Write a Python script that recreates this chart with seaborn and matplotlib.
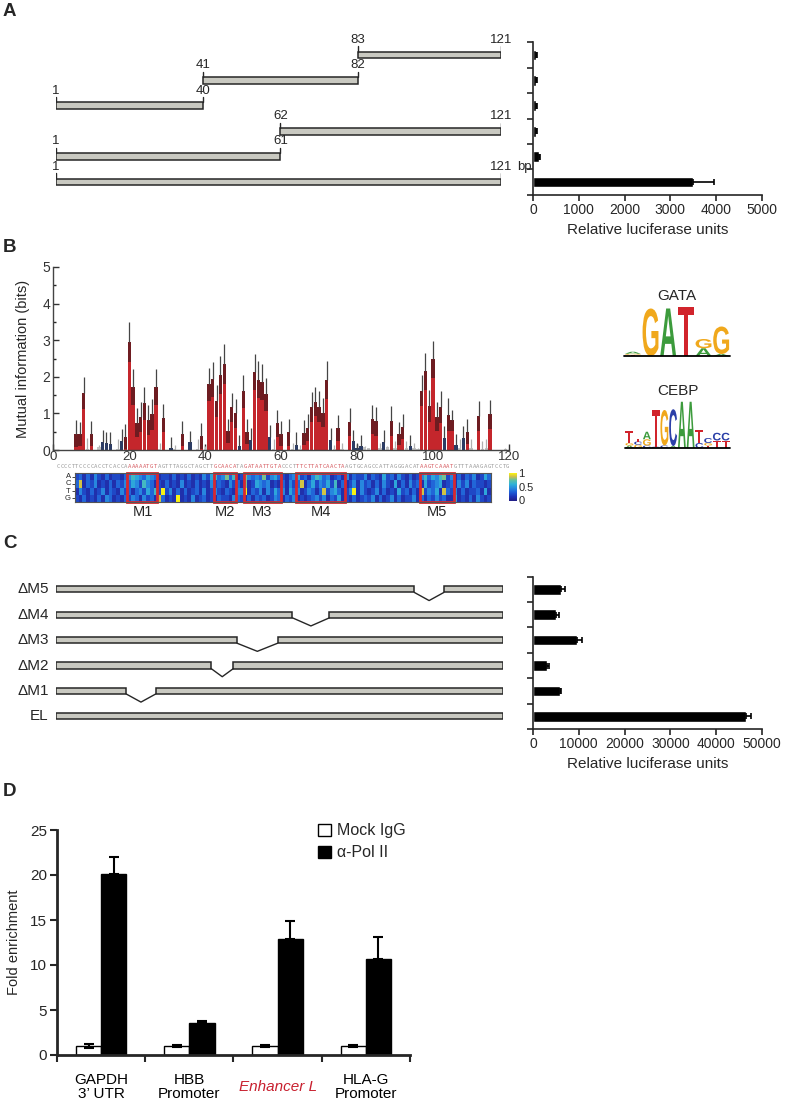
import numpy as np
import pandas as pd
import seaborn as sns
import matplotlib.pyplot as plt
from matplotlib.colors import LinearSegmentedColormap
from matplotlib.patches import Rectangle, PathPatch, Patch
from matplotlib.textpath import TextPath
from matplotlib.font_manager import FontProperties
from matplotlib.transforms import Affine2D

# ---------------- data ----------------
# A: enhancer fragments (bp) and luciferase activity
a_labels = ['83-121', '41-82', '1-40', '62-121', '1-61', '1-121']
a_start = [83, 41, 1, 62, 1, 1]
a_end = [121, 82, 40, 121, 61, 121]
a_luc = [55, 65, 60, 55, 130, 3500]
a_err = [25, 25, 25, 25, 30, 460]
a_ticks = [0, 1000, 2000, 3000, 4000, 5000]

# B: mutual information per position 1..120 (r = red, b = blue, g = grey, n = none)
mi_bits = [0, 0, 0, 0, 0, 0.45, 0.44, 1.56, 0.02, 0.45,
           0, 0.08, 0.21, 0.19, 0.17, 0, 0.02, 0.24, 0.36, 2.95,
           1.72, 0.75, 0.90, 1.28, 0.82, 0.97, 1.73, 0.02, 0.87, 0,
           0.05, 0.02, 0, 0.44, 0, 0.22, 0, 0.02, 0.38, 0.02,
           1.80, 1.93, 1.34, 2.06, 2.35, 0.52, 1.17, 1.00, 0.11, 1.60,
           0.50, 0.26, 2.12, 1.92, 1.85, 1.52, 0.35, 0.02, 0.73, 0.45,
           0, 0.48, 0.02, 0.15, 0.02, 0.47, 0.61, 1.17, 1.32, 1.18,
           1.02, 1.91, 0.27, 0.02, 0.60, 0.02, 0, 0.76, 0.25, 0.05,
           0.10, 0.08, 0.05, 0.84, 0.78, 0.05, 0.22, 0.08, 0.79, 0.05,
           0.45, 0.63, 0.05, 0.11, 0.05, 0.02, 1.62, 2.15, 1.20, 2.48,
           0.91, 1.18, 0.34, 0.96, 0.81, 0.14, 0.05, 0.32, 0.50, 0.05,
           0, 0.93, 0.02, 0.05, 0.97, 0, 0, 0, 0.02, 0]
mi_err = [0, 0, 0, 0, 0, 0.37, 0.33, 0.44, 0.30, 0.35,
          0, 0.07, 0.34, 0.31, 0.33, 0, 0.28, 0.33, 0.34, 0.55,
          0.48, 0.40, 0.40, 0.45, 0.40, 0.43, 0.49, 0.16, 0.39, 0,
          0.30, 0.13, 0, 0.34, 0, 0.31, 0, 0.28, 0.35, 0.08,
          0.45, 0.47, 0.43, 0.52, 0.55, 0.34, 0.40, 0.39, 0.29, 0.44,
          0.34, 0.34, 0.49, 0.50, 0.49, 0.46, 0.33, 0.28, 0.37, 0.35,
          0, 0.37, 0.18, 0.33, 0.13, 0.34, 0.36, 0.41, 0.39, 0.42,
          0.40, 0.51, 0.32, 0.13, 0.35, 0.18, 0, 0.39, 0.31, 0.15,
          0.30, 0.02, 0, 0.39, 0.40, 0.15, 0.33, 0.02, 0.41, 0.20,
          0.32, 0.34, 0.20, 0.30, 0.15, 0.03, 0.43, 0.50, 0.43, 0.50,
          0.39, 0.44, 0.32, 0.45, 0.29, 0.31, 0.25, 0.34, 0.34, 0.25,
          0, 0.40, 0.23, 0.25, 0.39, 0, 0, 0, 0.03, 0]
mi_kind = ('nnnnnrrrgr' 'ngbbbngbrr' 'rrrrrrrgrn' 'bgnrnbngrg' 'rrrrrrrrbr'
           'rbrrrrbgrr' 'nrgbgrrrrr' 'rrbgrgnrbb' 'bggrrgbgrg' 'rrgbggrrrr'
           'rrbrrbgbrg' 'nrggrnnngn')

enh_seq = ('CCCCTTCCCCACCTCACCAAAAAATGTAGTTTAGGCTAGCTTGCAACATAGATAATTGTACCCT'
           'TTCTTATCAACTAAGTGCAGCCATTAGGGACATAAGTCAAATGTTTAAAGAGTCCTG')
motif_names = ['M1', 'M2', 'M3', 'M4', 'M5']
motif_nt = [(19, 27), (42, 48), (50, 60), (64, 77), (97, 106)]   # 0-based, end exclusive

# heatmap (rows A, C, T, G), first column = nucleotide index 5, value = digit / 9
hm_bases = ['A', 'C', 'T', 'G']
hm_first = 5
hm_rows = [
    '2313142131' '2213465435' '4312213121' '3121425634' '7361274343' '7245321345'
    '2314653412' '3141322413' '2152314213' '1246354672' '4131324125' '3',
    '3813241213' '1324354264' '3121312141' '2131214232' '1423171254' '3412131423'
    '8135243526' '1312414231' '3142151314' '2315234512' '3142413221' '2',
    '1421312413' '2142313425' '3629241313' '1231412421' '3214491324' '1425341534'
    '1243138245' '3124914212' '4131215231' '3182435183' '2413122315' '1',
    '2131213143' '1213243142' '3183121912' '1412312132' '2143213132' '3124313241'
    '2123424132' '5121312324' '1312413122' '4131324231' '1512131421' '2',
]

# sequence logos: columns of (letter, bits), bottom to top
gata_logo = [[('T', 0.05), ('G', 0.04), ('A', 0.08)], [('G', 1.9)], [('A', 1.9)],
             [('T', 1.96)], [('A', 0.31), ('G', 0.37)], [('A', 0.08), ('G', 1.1)]]
cebp_logo = [[('A', 0.1), ('G', 0.1), ('T', 0.47)], [('G', 0.13), ('C', 0.13), ('T', 0.12)],
             [('C', 0.1), ('G', 0.25), ('A', 0.3)], [('C', 0.05), ('T', 1.47)],
             [('C', 0.1), ('G', 1.42)], [('A', 0.08), ('C', 1.47)], [('A', 1.85)], [('A', 1.85)],
             [('C', 0.2), ('T', 0.52)], [('T', 0.1), ('G', 0.1), ('C', 0.2)],
             [('T', 0.3), ('C', 0.31)], [('T', 0.3), ('C', 0.31)]]

# C: motif deletions
c_labels = ['\u0394M5', '\u0394M4', '\u0394M3', '\u0394M2', '\u0394M1', 'EL']
c_gaps = [(97, 105), (64, 74), (49, 60), (42, 48), (19, 27), None]
c_luc = [6100, 5000, 9500, 3100, 5800, 46500]
c_err = [900, 600, 1300, 400, 400, 1100]
c_ticks = [0, 10000, 20000, 30000, 40000, 50000]

# D: ChIP
d_regions = ['GAPDH\n3\u2019 UTR', 'HBB\nPromoter', 'Enhancer L', 'HLA-G\nPromoter']
d_mock = [1.0, 1.0, 1.0, 1.0]
d_mock_err = [0.2, 0.1, 0.15, 0.12]
d_pol2 = [20.1, 3.6, 12.9, 10.7]
d_pol2_err = [1.85, 0.2, 1.95, 2.4]

# ---------------- style ----------------
sns.set_style('ticks')
plt.rcParams['font.family'] = ['Liberation Sans', 'DejaVu Sans']
plt.rcParams['axes.linewidth'] = 1.2

FIG_W, FIG_H = 800, 1102
BAR_GREY = '#c9c9c1'
PARULA = LinearSegmentedColormap.from_list('parula_like', [
    (0.0, '#22208a'), (0.15, '#1f36b8'), (0.3, '#1f5cd6'), (0.45, '#2789de'),
    (0.6, '#2fb2d8'), (0.75, '#5ec0a4'), (0.88, '#cfc04a'), (1.0, '#f8f114')])
LOGO_COLORS = {'A': '#3c9b3c', 'C': '#2b3fa8', 'G': '#f0a81c', 'T': '#d1242c'}
LOGO_FONT = FontProperties(family='Liberation Sans', weight='bold')


def px_axes(fig, x0, y0, x1, y1):
    # axes from pixel box (top-left origin)
    return fig.add_axes([x0 / FIG_W, 1 - y1 / FIG_H, (x1 - x0) / FIG_W, (y1 - y0) / FIG_H])


def luciferase_bars(fig, y0, y1, labels, values, errors, ticks):
    ax = px_axes(fig, 533, y0, 762, y1)
    sns.barplot(x=values, y=labels, orient='h', color='black', saturation=1,
                width=0.42, errorbar=None, ax=ax)
    n = len(values)
    ax.errorbar(values, np.arange(n), xerr=[np.zeros(n), errors], fmt='none',
                ecolor='black', elinewidth=1.2, capsize=2.5, capthick=1.2)
    ax.set_xlim(0, ticks[-1])
    ax.set_ylim(n - 0.5, -0.5)
    ax.set_yticks(np.arange(-0.5, n, 1))
    ax.set_yticklabels([])
    ax.set_xticks(ticks)
    ax.tick_params(direction='out', length=4, width=1.2, labelsize=10, pad=2)
    ax.set_ylabel('')
    ax.set_xlabel('Relative luciferase units', fontsize=11, labelpad=4)
    sns.despine(ax=ax)


def construct_bar(ax, x0, x1, y, h):
    ax.add_patch(Rectangle((x0, y - h / 2), x1 - x0, h, fc=BAR_GREY, ec='#262626', lw=1.1))


def panel_a(fig):
    ax = px_axes(fig, 56, 42.3, 501, 194.7)
    ax.set_xlim(0, 121)
    ax.set_ylim(5.5, -0.5)
    ax.axis('off')
    for i, (s, e) in enumerate(zip(a_start, a_end)):
        construct_bar(ax, s - 1, e, i, 0.26)
        for xx, lab in ((s - 1, str(s)), (e, str(e))):
            ax.plot([xx, xx], [i - 0.13, i - 0.34], color='#262626', lw=1)
            ax.text(xx, i - 0.36, lab, ha='center', va='bottom', fontsize=9.5)
    ax.text(121 + 4.5, len(a_start) - 1 - 0.36, 'bp', ha='left', va='bottom', fontsize=9.5)
    luciferase_bars(fig, 42.3, 194.7, a_labels, a_luc, a_err, a_ticks)


def panel_b(fig):
    ax = px_axes(fig, 53.3, 267, 509, 450)
    pos = np.arange(1, 121)
    bits = np.array(mi_bits)
    err = np.array(mi_err)
    kinds = list(mi_kind)
    df = pd.DataFrame({'pos': pos, 'bits': bits, 'kind': kinds})
    sns.barplot(data=df, x='pos', y='bits', hue='kind', native_scale=True, dodge=False,
                palette={'r': '#c4262c', 'b': '#2c3c64', 'g': '#c4c4c4', 'n': '#ffffff'},
                width=0.88, saturation=1, errorbar=None, legend=False, linewidth=0, ax=ax)
    # darker shading for the lower error range inside the red bars
    red = np.array([k == 'r' for k in kinds])
    low = np.clip(bits - err, 0, None)
    ax.bar(pos[red], (bits - low)[red], bottom=low[red], width=0.88, color='#6e1c21', linewidth=0)
    line_cols = ['#b0b0b0' if k == 'g' else '#454545' for k in kinds]
    ax.vlines(pos, bits, bits + err, colors=line_cols, linewidth=0.9)
    ax.set_xlim(0, 120)
    ax.set_ylim(0, 5)
    ax.set_xticks(range(0, 121, 20))
    ax.set_yticks(range(6))
    ax.set_yticks(np.arange(0.5, 5, 1), minor=True)
    ax.tick_params(direction='in', length=4, width=1, labelsize=10, pad=2, colors='#333333')
    ax.tick_params(axis='x', labelsize=9.5, pad=1)
    ax.tick_params(which='minor', direction='in', length=2.5, width=1)
    ax.set_xlabel('')
    ax.set_ylabel('Mutual information (bits)', fontsize=10.5)
    ax.yaxis.set_label_coords(-0.052, 0.5)
    sns.despine(ax=ax)
    for sp in ('left', 'bottom'):
        ax.spines[sp].set_color('#444444')
        ax.spines[sp].set_linewidth(1)

    # position x base heatmap with the enhancer sequence above it
    hx = px_axes(fig, 75, 473.3, 491, 501.7)
    cax = px_axes(fig, 509, 473.3, 517, 500.5)
    mat = np.array([[int(c) / 9 for c in row] for row in hm_rows])
    sns.heatmap(mat, ax=hx, cbar_ax=cax, cmap=PARULA, vmin=0, vmax=1,
                xticklabels=False, yticklabels=hm_bases, cbar_kws={'ticks': [0, 0.5, 1]})
    hx.tick_params(axis='y', labelsize=5.5, length=2, width=0.6, pad=1, rotation=0)
    for sp in hx.spines.values():
        sp.set_visible(True)
        sp.set_color('#555555')
        sp.set_linewidth(0.8)
    cax.set_yticklabels(['0', '0.5', '1'])
    cax.tick_params(labelsize=8, length=0, pad=1)
    for name, (n0, n1) in zip(motif_names, motif_nt):
        c0, c1 = n0 - hm_first, n1 - hm_first
        hx.add_patch(Rectangle((c0, 0), c1 - c0, len(hm_bases), fill=False,
                               ec='#d7282f', lw=2, clip_on=False))
        hx.text((c0 + c1) / 2, 5.5, name, ha='center', va='center', fontsize=10.5)
    for i, ch in enumerate(enh_seq):
        in_motif = any(n0 <= i < n1 for n0, n1 in motif_nt)
        hx.text(i - hm_first + 0.5, -0.9, ch, ha='center', va='center', fontsize=4.1,
                family='DejaVu Sans Mono', color='#d65a60' if in_motif else '#9a9a9a',
                clip_on=False)


def draw_letter(ax, letter, x, y, w, h):
    tp = TextPath((0, 0), letter, size=1, prop=LOGO_FONT)
    bb = tp.get_extents()
    tr = Affine2D().translate(-bb.x0, -bb.y0).scale(w / bb.width, h / bb.height).translate(x, y)
    ax.add_patch(PathPatch(tr.transform_path(tp), fc=LOGO_COLORS[letter], ec='none'))


def logo(fig, box, title, title_y, columns):
    ax = px_axes(fig, *box)
    ax.set_xlim(0, len(columns))
    ax.set_ylim(0, 2)
    ax.axis('off')
    for j, stack in enumerate(columns):
        base = 0
        for letter, h in stack:
            draw_letter(ax, letter, j + 0.05, base, 0.9, h)
            base += h
    ax.plot([0, len(columns)], [0, 0], color='black', lw=1.3, clip_on=False)
    ax.text(0.5, title_y, title, transform=ax.transAxes, ha='center', va='center', fontsize=11)


def panel_c(fig):
    ax = px_axes(fig, 56, 576.7, 503, 729)
    ax.set_xlim(0, 121)
    ax.set_ylim(5.5, -0.5)
    ax.axis('off')
    for i, (lab, gap) in enumerate(zip(c_labels, c_gaps)):
        if gap is None:
            construct_bar(ax, 0, 121, i, 0.24)
        else:
            g0, g1 = gap
            construct_bar(ax, 0, g0, i, 0.24)
            construct_bar(ax, g1, 121, i, 0.24)
            ax.plot([g0, (g0 + g1) / 2, g1], [i + 0.12, i + 0.44, i + 0.12], color='#262626', lw=1)
        ax.text(-2, i, lab, ha='right', va='center', fontsize=11)
    luciferase_bars(fig, 576.7, 729, c_labels, c_luc, c_err, c_ticks)


def panel_d(fig):
    ax = px_axes(fig, 57, 830, 410, 1055)
    df = pd.DataFrame({'region': d_regions * 2,
                       'antibody': ['Mock IgG'] * 4 + ['\u03b1-Pol II'] * 4,
                       'fold': d_mock + d_pol2})
    sns.barplot(data=df, x='region', y='fold', hue='antibody',
                palette={'Mock IgG': 'white', '\u03b1-Pol II': 'black'}, width=0.57,
                edgecolor='black', linewidth=1, saturation=1, errorbar=None, legend=False, ax=ax)
    lower = d_mock_err + [0] * 4
    upper = d_mock_err + d_pol2_err
    for p, lo, hi in zip(ax.patches, lower, upper):
        xc = p.get_x() + p.get_width() / 2
        ax.errorbar(xc, p.get_height(), yerr=[[lo], [hi]], fmt='none', ecolor='black',
                    elinewidth=1.5, capsize=3.5, capthick=1.5)
    ax.set_xlim(-0.5, 3.5)
    ax.set_ylim(0, 25)
    ax.set_xticks(np.arange(-0.5, 4, 1))
    ax.set_xticklabels([])
    ax.set_yticks(range(0, 26, 5))
    ax.tick_params(direction='out', length=5, width=1.5, labelsize=11, pad=2)
    for sp in ('left', 'bottom'):
        ax.spines[sp].set_linewidth(2)
    sns.despine(ax=ax)
    ax.set_xlabel('')
    ax.set_ylabel('Fold enrichment', fontsize=10.5)
    ax.yaxis.set_label_coords(-0.103, 0.5)
    for i, lab in enumerate(d_regions):
        enh = lab == 'Enhancer L'
        ax.text(i, -0.142, lab, transform=ax.get_xaxis_transform(), ha='center', va='center',
                fontsize=11, linespacing=1.05, color='#c8202f' if enh else 'black',
                style='italic' if enh else 'normal')
    handles = [Patch(fc='white', ec='black', lw=1), Patch(fc='black', ec='black')]
    ax.legend(handles, ['Mock IgG', '\u03b1-Pol II'], loc='upper left', bbox_to_anchor=(0.74, 1.03),
              frameon=False, fontsize=11.5, handlelength=0.8, handleheight=0.8,
              handletextpad=0.35, labelspacing=0.45, borderpad=0, borderaxespad=0)


fig = plt.figure(figsize=(8, 11.02), dpi=100)
panel_a(fig)
panel_b(fig)
logo(fig, (624, 306, 730, 356), 'GATA', 1.2, gata_logo)
logo(fig, (625, 398, 730, 448), 'CEBP', 1.14, cebp_logo)
panel_c(fig)
panel_d(fig)
for lab, y in (('A', 11), ('B', 247), ('C', 543), ('D', 792)):
    fig.text(3 / FIG_W, 1 - y / FIG_H, lab, fontsize=13.5, fontweight='bold', ha='left', va='center')
fig.savefig('out.png', dpi=100)
